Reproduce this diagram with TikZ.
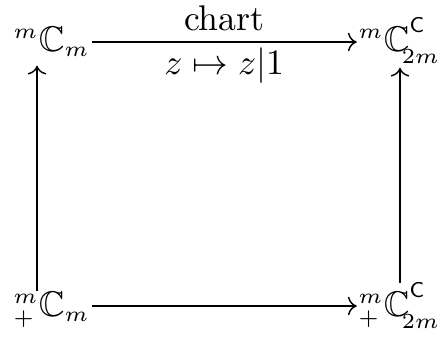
\documentclass[tikz,border=0pt]{standalone}
\usepackage{amssymb}
\usetikzlibrary{arrows.meta}
\DeclareMathSizes{10}{10}{6}{5}
\newcommand{\supC}{^{\raisebox{1.6pt}{$\scriptstyle\mathsf{C}$}}}
\newcommand{\subtm}{_{\raisebox{-1pt}{$\scriptstyle\mkern-5mu 2m$}}}
\begin{document}
\begin{tikzpicture}[x=0.28pt,y=-0.28pt,
  cell/.style={inner sep=0pt},
  arr/.style={-{Computer Modern Rightarrow}, line width=0.4pt}]
\useasboundingbox (0,0) rectangle (442,347);
\coordinate (ty) at (0,42);
\coordinate (by) at (0,306);
\coordinate (lx) at (37,0);
\coordinate (rx) at (400,0);
\node[cell,anchor=base west] (tl) at (13,51) {${}^m\mathbb{C}_m$};
\node[cell,anchor=base east] (tr) at (441,51) {${}^m\mathbb{C}\supC\subtm$};
\node[cell,anchor=base west] (bl) at (13,316) {${}^m_+\mathbb{C}_m$};
\node[cell,anchor=base east] (br) at (441,316) {${}^m_+\mathbb{C}\supC\subtm$};
\draw[arr,shorten <=0.3pt,shorten >=0.3pt] (tl.east |- ty) -- node[above,inner sep=2.8pt]{chart} node[below,inner sep=1.3pt]{$z\mapsto z|1$} (tr.west |- ty);
\draw[arr,shorten <=0.3pt,shorten >=0.3pt] (bl.east |- by) -- (br.west |- by);
\draw[arr,shorten >=2.4pt] (bl.north -| lx) -- (tl.south -| lx);
\draw[arr,shorten <=-0.3pt,shorten >=1pt] (br.north -| rx) -- (tr.south -| rx);
\end{tikzpicture}
\end{document}
